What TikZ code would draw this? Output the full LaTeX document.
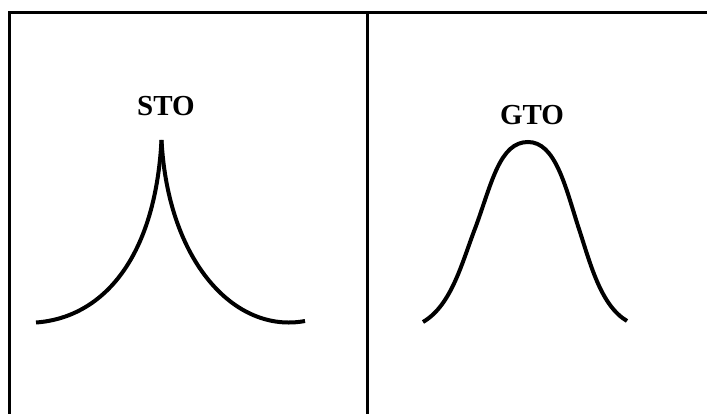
\documentclass[tikz,border=0pt]{standalone}
\usepackage{fontspec}
\setmainfont{Liberation Serif}
\usetikzlibrary{positioning}

\begin{document}
\begin{tikzpicture}[x=1pt,y=-1pt,
    frame/.style={line width=3pt},
    curve/.style={line width=4pt},
    caption/.style={font=\bfseries\fontsize{29}{32}\selectfont,inner sep=0pt}]
    \useasboundingbox (0,0) rectangle (707,414);
    \clip (0,0) rectangle (707,414);
    % panels
    \draw[frame] (9.5,12.5) rectangle (730,440);
    \draw[frame] (367.7,12.5) -- (367.7,440);
    % labels
    \node[caption] (sto) at (166,106) {STO};
    \node[caption] (gto) at (532,115) {GTO};
    % STO: cusp
    \coordinate (cusp) at (161.5,140);
    \draw[curve] (36,322.5) .. controls (100,318) and (155,262) .. (cusp);
    \draw[curve] (cusp) .. controls (168,262) and (235,334) .. (305,321);
    % GTO: smooth bell
    \draw[curve] (423,322) .. controls (452,305) and (462,262) .. (476,226)
        .. controls (492,182) and (500,142) .. (528,142)
        .. controls (555,142) and (565,185) .. (578,226)
        .. controls (590,262) and (600,305) .. (627,321);
\end{tikzpicture}
\end{document}
